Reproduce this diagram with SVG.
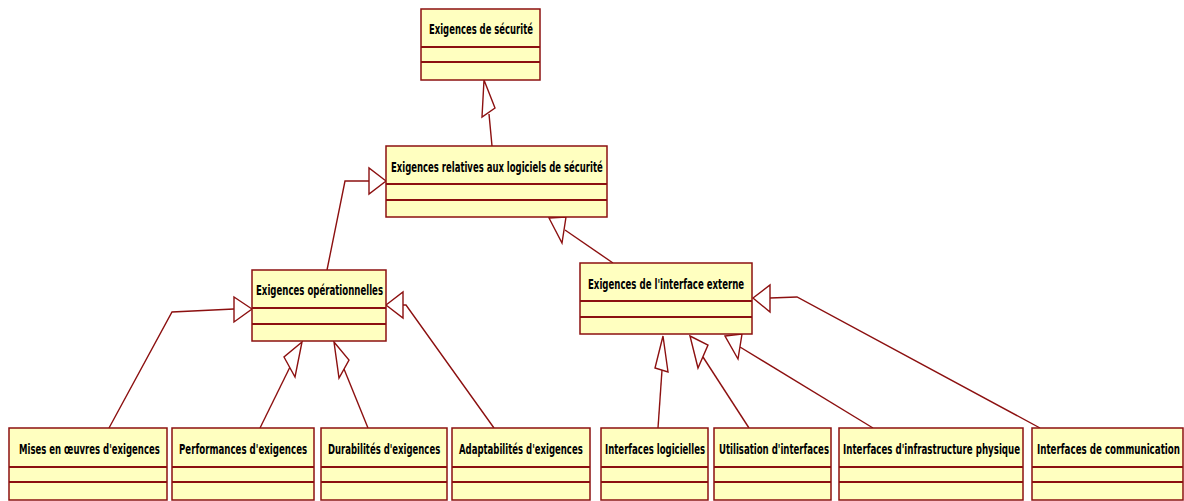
<svg xmlns="http://www.w3.org/2000/svg" width="1184" height="501" viewBox="0 0 1184 501">
  <style>
    .box { fill: #FFFFC0; stroke: #8C1010; stroke-width: 1.5; }
    .div { stroke: #8C1010; stroke-width: 1.8; }
    .name { font-family: "DejaVu Sans", "Liberation Sans", sans-serif; font-weight: bold; font-size: 14.5px; fill: #000; }
    .edge { fill: none; stroke: #8C1010; stroke-width: 1.4; }
    .head { fill: #FFFFFF; stroke: #8C1010; stroke-width: 1.4; stroke-linejoin: miter; }
  </style>
  <rect width="1184" height="501" fill="#FFFFFF"/>

  <!-- generalization connectors (hollow triangle at the parent end) -->
  <g id="connectors">
    <polyline class="edge" points="492,146 489,114"/>
    <polygon class="head" points="484,80 495,108 482,117"/>

    <polyline class="edge" points="327,270 345,181 369,181"/>
    <polygon class="head" points="386,181 369,168 369,194"/>

    <polyline class="edge" points="613,263 565,230"/>
    <polygon class="head" points="549,218 566,217 562,243"/>

    <polyline class="edge" points="109,428 172,312 234,309"/>
    <polygon class="head" points="252,309 234,297 234,322"/>

    <polyline class="edge" points="260,428 290,367"/>
    <polygon class="head" points="302,342 284,357 295,377"/>

    <polyline class="edge" points="368,428 344,369"/>
    <polygon class="head" points="334,342 349,360 339,378"/>

    <polyline class="edge" points="494,428 406,305 403,305"/>
    <polygon class="head" points="386,305 403,292 403,318"/>

    <polyline class="edge" points="658,428 662,370"/>
    <polygon class="head" points="663,336 655,368 668,372"/>

    <polyline class="edge" points="749,428 703,357"/>
    <polygon class="head" points="690,336 708,345 698,368"/>

    <polyline class="edge" points="873,428 740,347"/>
    <polygon class="head" points="725,336 742,334 738,359"/>

    <polyline class="edge" points="1040,428 797,297 770,298"/>
    <polygon class="head" points="753,298 770,285 770,312"/>
  </g>

  <!-- classes: names are drawn narrow (horizontal scale 0.55) -->
  <g id="exigences-securite">
    <rect class="box" x="421" y="9" width="119" height="71"/>
    <line class="div" x1="421" y1="47" x2="540" y2="47"/>
    <line class="div" x1="421" y1="62" x2="540" y2="62"/>
    <text class="name" transform="translate(429,33.5) scale(0.55,1)" textLength="189" lengthAdjust="spacingAndGlyphs">Exigences de sécurité</text>
  </g>

  <g id="exigences-logiciels">
    <rect class="box" x="386" y="146" width="221" height="71"/>
    <line class="div" x1="386" y1="184" x2="607" y2="184"/>
    <line class="div" x1="386" y1="200" x2="607" y2="200"/>
    <text class="name" transform="translate(391,171.5) scale(0.55,1)" textLength="385" lengthAdjust="spacingAndGlyphs">Exigences relatives aux logiciels de sécurité</text>
  </g>

  <g id="exigences-operationnelles">
    <rect class="box" x="252" y="270" width="134" height="71"/>
    <line class="div" x1="252" y1="308" x2="386" y2="308"/>
    <line class="div" x1="252" y1="324" x2="386" y2="324"/>
    <text class="name" transform="translate(256,295) scale(0.55,1)" textLength="231" lengthAdjust="spacingAndGlyphs">Exigences opérationnelles</text>
  </g>

  <g id="exigences-interface-externe">
    <rect class="box" x="580" y="263" width="172" height="71"/>
    <line class="div" x1="580" y1="301" x2="752" y2="301"/>
    <line class="div" x1="580" y1="317" x2="752" y2="317"/>
    <text class="name" transform="translate(588,288.5) scale(0.55,1)" textLength="284" lengthAdjust="spacingAndGlyphs">Exigences de l'interface externe</text>
  </g>

  <g id="mises-en-oeuvre">
    <rect class="box" x="9" y="428" width="158" height="72"/>
    <line class="div" x1="9" y1="467" x2="167" y2="467"/>
    <line class="div" x1="9" y1="482" x2="167" y2="482"/>
    <text class="name" transform="translate(19,453.5) scale(0.55,1)" textLength="256" lengthAdjust="spacingAndGlyphs">Mises en œuvres d'exigences</text>
  </g>

  <g id="performances">
    <rect class="box" x="172" y="428" width="142" height="72"/>
    <line class="div" x1="172" y1="467" x2="314" y2="467"/>
    <line class="div" x1="172" y1="482" x2="314" y2="482"/>
    <text class="name" transform="translate(179,453.5) scale(0.55,1)" textLength="233" lengthAdjust="spacingAndGlyphs">Performances d'exigences</text>
  </g>

  <g id="durabilites">
    <rect class="box" x="321" y="428" width="126" height="72"/>
    <line class="div" x1="321" y1="467" x2="447" y2="467"/>
    <line class="div" x1="321" y1="482" x2="447" y2="482"/>
    <text class="name" transform="translate(328,453.5) scale(0.55,1)" textLength="204" lengthAdjust="spacingAndGlyphs">Durabilités d'exigences</text>
  </g>

  <g id="adaptabilites">
    <rect class="box" x="452" y="428" width="138" height="72"/>
    <line class="div" x1="452" y1="467" x2="590" y2="467"/>
    <line class="div" x1="452" y1="482" x2="590" y2="482"/>
    <text class="name" transform="translate(459,453.5) scale(0.55,1)" textLength="225" lengthAdjust="spacingAndGlyphs">Adaptabilités d'exigences</text>
  </g>

  <g id="interfaces-logicielles">
    <rect class="box" x="601" y="428" width="107" height="72"/>
    <line class="div" x1="601" y1="467" x2="708" y2="467"/>
    <line class="div" x1="601" y1="482" x2="708" y2="482"/>
    <text class="name" transform="translate(605,453.5) scale(0.55,1)" textLength="182" lengthAdjust="spacingAndGlyphs">Interfaces logicielles</text>
  </g>

  <g id="utilisation-interfaces">
    <rect class="box" x="714" y="428" width="117" height="72"/>
    <line class="div" x1="714" y1="467" x2="831" y2="467"/>
    <line class="div" x1="714" y1="482" x2="831" y2="482"/>
    <text class="name" transform="translate(719,453.5) scale(0.55,1)" textLength="200" lengthAdjust="spacingAndGlyphs">Utilisation d'interfaces</text>
  </g>

  <g id="interfaces-infrastructure">
    <rect class="box" x="839" y="428" width="184" height="72"/>
    <line class="div" x1="839" y1="467" x2="1023" y2="467"/>
    <line class="div" x1="839" y1="482" x2="1023" y2="482"/>
    <text class="name" transform="translate(843,453.5) scale(0.55,1)" textLength="322" lengthAdjust="spacingAndGlyphs">Interfaces d'infrastructure physique</text>
  </g>

  <g id="interfaces-communication">
    <rect class="box" x="1032" y="428" width="151" height="72"/>
    <line class="div" x1="1032" y1="467" x2="1183" y2="467"/>
    <line class="div" x1="1032" y1="482" x2="1183" y2="482"/>
    <text class="name" transform="translate(1037,453.5) scale(0.55,1)" textLength="260" lengthAdjust="spacingAndGlyphs">Interfaces de communication</text>
  </g>
</svg>
